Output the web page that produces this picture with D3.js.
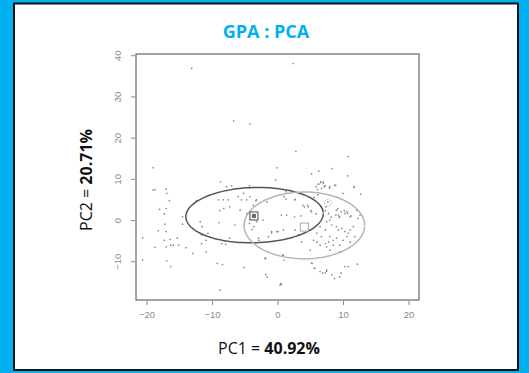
<!DOCTYPE html>
<html>
<head>
<meta charset="utf-8">
<script src="https://cdn.jsdelivr.net/npm/d3@7"></script>
<style>
  body { margin: 0; background: #00b0f0; }
  svg { display: block; }
</style>
</head>
<body>
<svg id="chart" width="529" height="373"></svg>
<script>
// individual scores (PC1, PC2)
const pc1 = [-13.1,2.4,-6.7,-4.2,2.8,-19.0,-0.1,-0.3,-8.7,-7.8,-7.0,-4.3,-18.7,-17.0,
  10.8,5.2,6.3,8.3,10.7,11.7,6.2,6.6,7.0,7.3,8.0,8.9,5.9,6.3,6.6,7.0,7.1,6.7,6.1,7.9,8.7,
  11.7,12.7,10.0,2.6,5.6,6.2,7.7,7.4,9.2,9.7,10.2,10.7,8.9,8.2,9.4,11.2,4.1,4.6,5.1,3.6,5.9,2.6,1.0,1.3,
  3.9,4.7,5.2,6.7,7.3,7.8,8.0,7.5,9.0,9.3,9.5,10.3,10.6,11.1,12.1,12.3,12.6,11.6,10.8,10.6,10.0,11.1,
  9.0,8.5,8.0,7.8,7.3,6.5,6.0,5.5,5.0,7.5,8.5,9.5,8.3,9.0,9.3,9.8,10.3,6.5,7.3,6.0,6.7,11.1,11.8,8.0,9.5,
  0.9,1.4,2.7,3.2,3.7,-1.6,-3.2,-2.2,-0.9,-0.1,-1.4,-2.9,-1.9,0.9,5.2,5.7,10.3,10.8,7.5,7.3,8.3,9.5,6.5,-1.6,0.4,
  -19.0,-16.9,-16.5,-18.0,-17.0,-17.3,-17.2,-18.2,-17.0,-20.6,-18.7,-17.3,-16.4,-17.0,-16.3,-15.9,-15.1,-15.3,-14.0,
  -20.6,-16.9,-16.3,-14.5,-14.5,-12.4,-11.8,-11.5,-10.6,-11.6,-10.9,-11.6,-12.9,-10.9,-9.0,-8.3,-7.5,-8.8,-8.2,-7.3,
  -8.9,-8.5,-7.9,-7.3,-9.2,-8.4,-8.8,-6.5,-6.0,-5.5,-5.2,-4.7,-4.2,-3.3,-3.7,-5.7,-4.7,-4.3,-3.9,-3.6,-3.2,-2.8,
  -5.1,-1.8,-1.8,0.6,-0.9,0.1,0.6,1.3,0.9,2.7,0.8,1.0,12.2,8.7,9.7,6.9,7.5,5.6,5.3,0.5];
const pc2 = [36.8,38.0,24.1,23.3,16.7,12.7,12.7,9.7,9.3,8.1,8.3,8.3,7.4,7.5,
  15.4,11.2,11.9,12.5,10.7,8.1,8.7,9.1,9.3,8.3,8.1,8.4,8.1,8.7,9.3,8.9,8.1,7.7,7.4,7.8,8.5,
  7.9,6.3,6.5,4.9,5.5,6.1,4.4,3.2,2.8,2.0,2.3,1.6,1.2,0.7,0.7,1.0,3.2,3.6,2.3,1.0,1.5,0.8,5.7,6.9,
  3.6,3.2,2.0,3.2,2.3,1.6,0.0,-0.4,2.4,1.2,0.8,1.6,2.0,0.8,2.4,0.4,1.2,-1.6,-3.2,-4.0,-4.9,-5.3,
  -4.4,-4.9,-4.0,-5.3,-5.7,-6.1,-5.3,-4.9,-7.3,-6.5,-6.1,-6.1,-1.2,-1.6,-2.4,-2.0,-2.8,-1.6,-2.4,-3.2,-4.0,-2.4,-4.0,-7.3,-7.7,
  -2.4,1.2,-2.4,-3.6,-5.3,4.4,4.9,0.0,-2.8,-2.8,-4.0,-4.4,-9.3,-8.5,-10.5,-11.7,-11.3,-11.3,-12.1,-12.8,-13.3,-13.8,-12.5,-13.8,-15.8,
  7.3,6.5,4.7,2.6,2.8,1.5,-1.0,-2.6,-2.8,-4.3,-6.6,-4.9,-4.7,-6.5,-6.1,-6.1,-6.1,-4.4,-6.7,
  -9.7,-9.9,-11.3,0.8,-1.0,4.7,-0.4,-1.6,-3.2,-3.6,-4.9,-5.7,-8.1,-7.7,4.9,4.9,4.9,2.3,2.8,3.2,
  -0.6,-5.7,-5.9,-4.4,-10.5,-10.8,-17.0,-1.2,5.7,4.9,6.5,4.9,5.7,4.7,3.6,2.4,1.6,-0.8,-2.3,-1.6,-0.4,-4.9,
  -11.5,-9.3,-13.2,-15.6,-3.1,-2.8,1.2,5.1,7.3,5.0,-8.5,-9.7,-10.7,-14.2,-12.9,-12.9,-12.4,-11.7,-10.5,-15.4];

// group confidence ellipses: centre, half axes, tilt (data units)
const ellipseNames = ["A", "B"];
const ellipseCx = [-3.5, 4.1];
const ellipseCy = [1.2, -1.3];
const ellipseRx = [10.5, 9.2];
const ellipseRy = [6.7, 8.1];
const ellipseTilt = [0.06, 0];
const ellipseColor = ["#555", "#b5b5b5"];

const xTicks = [-20, -10, 0, 10, 20];
const yTicks = [-10, 0, 10, 20, 30, 40];

const svg = d3.select("#chart");

// white panel
svg.append("rect")
  .attr("x", 14).attr("y", 3.5)
  .attr("width", 504).attr("height", 366.5)
  .attr("fill", "#fff")
  .attr("stroke", "#111")
  .attr("stroke-width", 2);

const plotL = 136, plotR = 419, plotT = 54, plotB = 300;

const x = d3.scaleLinear().domain([-21.6, 21.6]).range([plotL, plotR]);
const y = d3.scaleLinear().domain([-19.4, 40.3]).range([plotB, plotT]);

svg.append("text")
  .attr("x", 266).attr("y", 38)
  .attr("text-anchor", "middle")
  .attr("font-family", "Open Sans")
  .attr("font-weight", "bold")
  .attr("font-size", 18)
  .attr("fill", "#00b0f0")
  .text("GPA : PCA");

// plot box
svg.append("rect")
  .attr("x", plotL).attr("y", plotT)
  .attr("width", plotR - plotL).attr("height", plotB - plotT)
  .attr("fill", "none")
  .attr("stroke", "#666")
  .attr("stroke-width", 1.2);

// x axis
const xAxis = svg.append("g")
  .attr("transform", "translate(0," + (plotB + 1) + ")")
  .call(d3.axisBottom(x).tickValues(xTicks).tickSize(4).tickPadding(6));
xAxis.select(".domain").remove();
xAxis.selectAll("line").attr("stroke", "#888");
xAxis.selectAll("text")
  .attr("font-family", "Liberation Sans").attr("font-size", 9.5).attr("fill", "#888");

// y axis, labels turned like R does
const yAxis = svg.append("g")
  .attr("transform", "translate(" + (plotL - 1) + ",0)")
  .call(d3.axisLeft(y).tickValues(yTicks).tickSize(4));
yAxis.select(".domain").remove();
yAxis.selectAll("line").attr("stroke", "#888");
yAxis.selectAll("text")
  .attr("x", 0).attr("dy", null).attr("y", 0)
  .attr("text-anchor", "middle")
  .attr("transform", "translate(-14,0) rotate(-90)")
  .attr("font-family", "Liberation Sans").attr("font-size", 9.5).attr("fill", "#888");

// points
svg.append("g").selectAll("circle")
  .data(pc1.map((v, i) => [v, pc2[i]]))
  .enter()
  .append("circle")
  .attr("cx", d => x(d[0]))
  .attr("cy", d => y(d[1]))
  .attr("r", 0.85)
  .attr("fill", "#888");

// ellipses
const line = d3.line().x(d => x(d[0])).y(d => y(d[1]));
ellipseNames.forEach((n, i) => {
  const pts = d3.range(0, 2 * Math.PI + 0.01, 0.05).map(t => {
    const a = ellipseRx[i] * Math.cos(t), b = ellipseRy[i] * Math.sin(t);
    const c = Math.cos(ellipseTilt[i]), s = Math.sin(ellipseTilt[i]);
    return [ellipseCx[i] + a * c - b * s, ellipseCy[i] + a * s + b * c];
  });
  svg.append("path")
    .attr("d", line(pts))
    .attr("fill", "none")
    .attr("stroke", ellipseColor[i])
    .attr("stroke-width", 1.5);
});

// group mean markers
svg.append("rect")
  .attr("x", x(-3.6) - 4).attr("y", y(1.0) - 4)
  .attr("width", 8).attr("height", 8)
  .attr("fill", "none").attr("stroke", "#666").attr("stroke-width", 1.2);
svg.append("rect")
  .attr("x", x(-3.6) - 2).attr("y", y(1.0) - 2)
  .attr("width", 4).attr("height", 4)
  .attr("fill", "#666");
svg.append("rect")
  .attr("x", x(4.1) - 4).attr("y", y(-1.7) - 4)
  .attr("width", 8).attr("height", 8)
  .attr("fill", "none").attr("stroke", "#aaa").attr("stroke-width", 1);
svg.append("circle")
  .attr("cx", x(7.7)).attr("cy", y(4.2))
  .attr("r", 3.5)
  .attr("fill", "none").attr("stroke", "#aaa").attr("stroke-dasharray", "1.5,1.5");

// axis titles
const xl = svg.append("text")
  .attr("x", 269).attr("y", 354)
  .attr("text-anchor", "middle")
  .attr("font-family", "Open Sans").attr("font-size", 16).attr("fill", "#111");
xl.append("tspan").text("PC1 = ");
xl.append("tspan").attr("font-weight", "bold").text("40.92%");

const yl = svg.append("text")
  .attr("transform", "translate(92,180) rotate(-90)")
  .attr("text-anchor", "middle")
  .attr("font-family", "Open Sans").attr("font-size", 16).attr("fill", "#111");
yl.append("tspan").text("PC2 = ");
yl.append("tspan").attr("font-weight", "bold").text("20.71%");
</script>
</body>
</html>
